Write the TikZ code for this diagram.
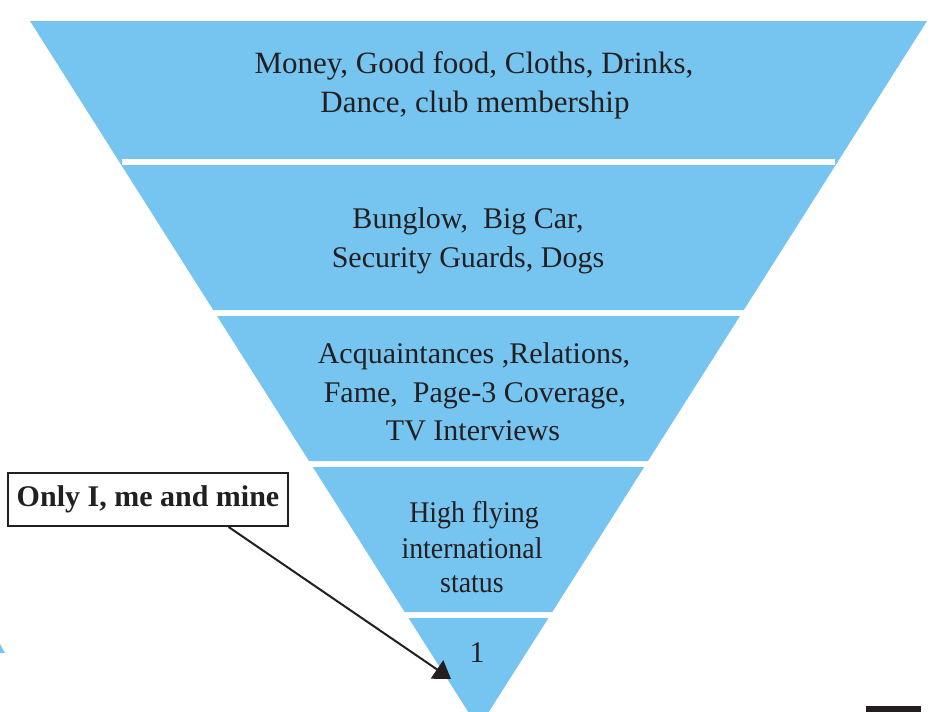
\documentclass[tikz,border=0pt]{standalone}
\usepackage{fontspec}
\setmainfont{Liberation Serif}
\usetikzlibrary{arrows.meta,calc}
\definecolor{bandblue}{RGB}{118,197,240}
\definecolor{ink}{RGB}{35,31,32}
\tikzset{
  band/.style={fill=bandblue, draw=none},
  gapline/.style={fill=white, draw=none},
  txt/.style={anchor=base, inner sep=0pt, text=ink, font=\fontsize{30}{36}\selectfont},
  txtA/.style={txt, font=\fontsize{31}{36}\selectfont},
  txtD/.style={txt, font=\fontsize{30}{36}\selectfont\addfontfeature{FakeStretch=0.93}},
  labelbox/.style={draw=ink, line width=2pt, fill=white, minimum width=280pt, minimum height=53pt, inner sep=0pt, text=ink, font=\bfseries\fontsize{30}{36}\selectfont},
  pointer/.style={draw=ink, line width=2pt, -{Triangle[length=17pt,width=22pt]}}
}
\begin{document}
\begin{tikzpicture}[x=1pt,y=-1pt]
\useasboundingbox (0,0) rectangle (940,712);
\clip (0,0) rectangle (940,712);
% bands 1 and 2 (joined, with an inset white stripe)
\fill[band] (30,21) -- (927,21) -- (743.8,310) -- (213.2,310) -- cycle;
\fill[gapline] (122,159) rectangle (835,165);
% band 3
\fill[band] (217.0,316) -- (740.0,316) -- (648.0,461) -- (309.0,461) -- cycle;
% band 4
\fill[band] (312.8,467) -- (644.2,467) -- (552.3,612) -- (404.7,612) -- cycle;
% band 5 (apex)
\fill[band] (408.5,618) -- (548.5,618) -- (478.5,728) -- cycle;
% stray fragments at the edges
\fill[band] (0,644) -- (5,653) -- (0,653) -- cycle;
\fill[ink] (866,706) rectangle (921,713);
% texts
\node[txtA] (a1) at (474,73) {Money, Good food, Cloths, Drinks,};
\node[txtA] (a2) at (475,112) {Dance, club membership};
\node[txt] (b1) at (468,228) {Bunglow,\ \ Big Car,};
\node[txt] (b2) at (468,267) {Security Guards, Dogs};
\node[txt] (c1) at (474,363) {Acquaintances ,Relations,};
\node[txt] (c2) at (475,402) {Fame,\ \ Page-3 Coverage,};
\node[txt] (c3) at (473,440) {TV Interviews};
\node[txtD] (d1) at (474,522) {High flying};
\node[txtD] (d2) at (472,558) {international};
\node[txtD] (d3) at (472,592) {status};
\node[txt] (e1) at (477,662) {1};
% label and pointer
\node[labelbox] (lbl) at (148,499.5) {Only I, me and mine};
\coordinate (tip) at (451,679);
\draw[pointer] ($(lbl.south west)!0.786!(lbl.south east)$) -- (tip);
\end{tikzpicture}
\end{document}
